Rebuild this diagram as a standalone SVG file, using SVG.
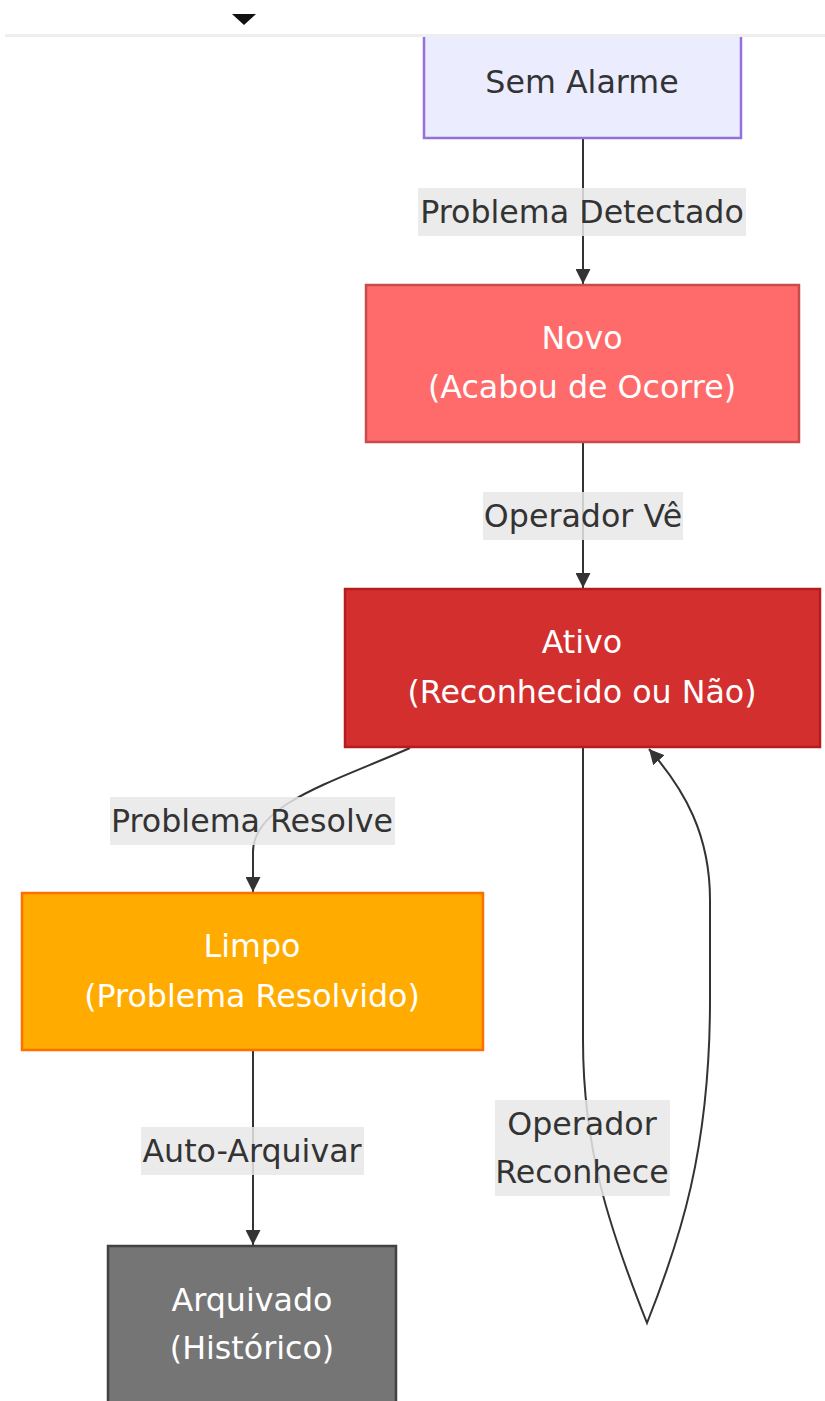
<svg xmlns="http://www.w3.org/2000/svg" width="825" height="1401" viewBox="0 0 825 1401">
<style>
.t{font-family:"DejaVu Sans","Verdana",sans-serif;font-size:31.7px;text-anchor:middle;dominant-baseline:central}
.w{fill:#ffffff}
.d{fill:#333333}
.e{fill:none;stroke:#333333;stroke-width:2}
.lb{fill:#e8e8e8;fill-opacity:0.85}
.n{stroke-width:2.5}
</style>
<defs>
<marker id="ah" viewBox="0 0 10 10" refX="10" refY="5" markerUnits="userSpaceOnUse" markerWidth="15" markerHeight="15" orient="auto">
<path d="M0,0 L10,5 L0,10 z" fill="#333333"/>
</marker>
</defs>
<rect width="825" height="1401" fill="#ffffff"/>

<g id="connectors">
<path class="e" d="M583,139 L583,284" marker-end="url(#ah)"/>
<path class="e" d="M583,443 L583,588" marker-end="url(#ah)"/>
<path class="e" d="M410,748 C330,783 253,805 253,852 L253,892" marker-end="url(#ah)"/>
<path class="e" d="M253,1051 L253,1245" marker-end="url(#ah)"/>
<path class="e" d="M583,748 L583,1040 C583,1150 610,1230 647,1323 C680,1240 710,1150 710,1000 L710,900 C710,835 685,790 649,749" marker-end="url(#ah)"/>
</g>

<g id="labels">
<g id="lbl-detectado"><rect class="lb" x="418" y="188" width="328" height="48"/><text class="t d" x="582" y="212">Problema Detectado</text></g>
<g id="lbl-ve"><rect class="lb" x="483" y="492" width="200" height="48"/><text class="t d" x="583" y="516">Operador Vê</text></g>
<g id="lbl-resolve"><rect class="lb" x="110" y="797" width="285" height="48"/><text class="t d" x="252" y="821">Problema Resolve</text></g>
<g id="lbl-arquivar"><rect class="lb" x="141" y="1127" width="223" height="48"/><text class="t d" x="252" y="1151">Auto-Arquivar</text></g>
<g id="lbl-reconhece"><rect class="lb" x="495" y="1100" width="175" height="96"/><text class="t d" x="582" y="1124">Operador</text><text class="t d" x="582" y="1172">Reconhece</text></g>
</g>

<g id="sem-alarme">
<rect class="n" x="424" y="28" width="317" height="110" fill="#ECECFF" stroke="#9370DB"/>
<text class="t d" x="582" y="82">Sem Alarme</text>
</g>
<g id="novo">
<rect class="n" x="366" y="285" width="433" height="157" fill="#FF6B6B" stroke="#C94C4C"/>
<text class="t w" x="582" y="338">Novo</text>
<text class="t w" x="582" y="387">(Acabou de Ocorre)</text>
</g>
<g id="ativo">
<rect class="n" x="345" y="589" width="475" height="158" fill="#D32F2F" stroke="#B71C1C"/>
<text class="t w" x="582" y="642">Ativo</text>
<text class="t w" x="582" y="692">(Reconhecido ou Não)</text>
</g>
<g id="limpo">
<rect class="n" x="22" y="893" width="461" height="157" fill="#FFAB00" stroke="#FF6F00"/>
<text class="t w" x="252" y="946">Limpo</text>
<text class="t w" x="252" y="996">(Problema Resolvido)</text>
</g>
<g id="arquivado">
<rect class="n" x="108" y="1246" width="288" height="170" fill="#757575" stroke="#424242" stroke-width="3"/>
<text class="t w" x="252" y="1300">Arquivado</text>
<text class="t w" x="252" y="1348">(Histórico)</text>
</g>

<g id="top-bar">
<rect x="0" y="0" width="825" height="35" fill="#ffffff"/>
<rect x="5" y="34" width="820" height="3" fill="#eeeeee"/>
<path d="M232,14 L256,14 L244,25 z" fill="#111111"/>
</g>
</svg>
